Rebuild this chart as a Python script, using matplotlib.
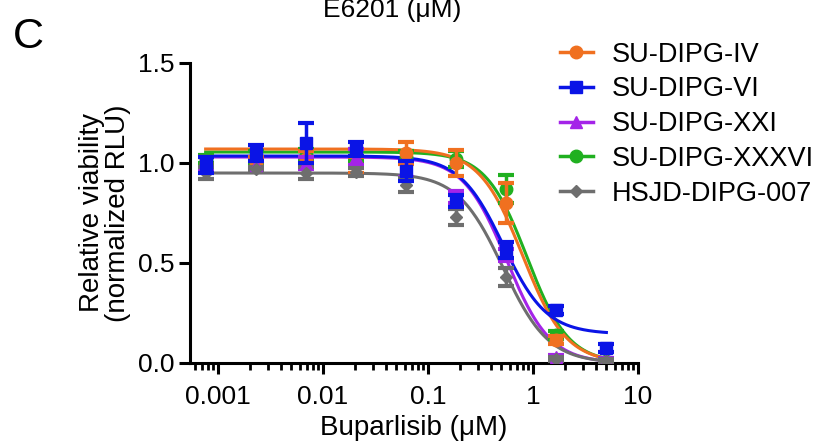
import numpy as np
import matplotlib as mpl
mpl.use('Agg')
import matplotlib.pyplot as plt
from matplotlib.ticker import LogLocator, FixedLocator, NullFormatter

plt.rcParams['font.family'] = ['Liberation Sans', 'DejaVu Sans']

## doses (uM), 3-fold dilution from 5
doses = [0.000762, 0.00229, 0.00686, 0.0206, 0.0617, 0.185, 0.556, 1.667, 5.0]

names = ['SU-DIPG-IV', 'SU-DIPG-VI', 'SU-DIPG-XXI', 'SU-DIPG-XXXVI', 'HSJD-DIPG-007']
colors = ['#F07020', '#0A14E6', '#A424E8', '#20B020', '#6E6E6E']
markers = ['o', 's', '^', 'o', 'D']

iv_mean = [1.00, 1.00, 1.02, 0.99, 1.05, 1.00, 0.80, 0.115, 0.005]
iv_err = [0.03, 0.03, 0.04, 0.04, 0.055, 0.065, 0.10, 0.02, 0.01]
vi_mean = [0.99, 1.05, 1.10, 1.07, 0.96, 0.81, 0.565, 0.265, 0.075]
vi_err = [0.04, 0.04, 0.10, 0.035, 0.05, 0.03, 0.04, 0.02, 0.02]
xxi_mean = [1.00, 0.99, 1.00, 1.03, 0.97, 0.83, 0.54, 0.03, 0.015]
xxi_err = [0.03, 0.02, 0.03, 0.04, 0.04, 0.03, 0.03, 0.01, 0.01]
xxxvi_mean = [1.02, 1.03, 1.04, 1.04, 1.03, 1.02, 0.87, 0.14, 0.01]
xxxvi_err = [0.02, 0.03, 0.03, 0.03, 0.03, 0.04, 0.07, 0.02, 0.01]
hsjd_mean = [0.95, 0.97, 0.95, 0.955, 0.89, 0.73, 0.43, 0.02, 0.01]
hsjd_err = [0.03, 0.01, 0.03, 0.02, 0.035, 0.04, 0.045, 0.01, 0.01]

means = [iv_mean, vi_mean, xxi_mean, xxxvi_mean, hsjd_mean]
errs = [iv_err, vi_err, xxi_err, xxxvi_err, hsjd_err]

## fitted 4PL curve parameters
fit_top = [1.07, 1.035, 1.03, 1.055, 0.95]
fit_bottom = [0.0, 0.145, 0.0, 0.0, 0.0]
fit_ic50 = [0.8, 0.52, 0.56, 0.88, 0.52]
fit_hill = [2.1, 2.1, 2.1, 2.2, 2.0]

fig = plt.figure(figsize=(8.26, 4.47), dpi=100)
ax = fig.add_axes([190/826, 1-363/447, 448/826, 300/447])

xs = np.logspace(np.log10(doses[0]), np.log10(doses[-1]), 300)
order = [3, 0, 2, 4, 1]   # green at the back, blue on top
for k, i in enumerate(order):
    c = colors[i]
    yfit = fit_bottom[i] + (fit_top[i]-fit_bottom[i]) / (1.0 + (xs/fit_ic50[i])**fit_hill[i])
    ax.plot(xs, yfit, '-', color=c, lw=2.2, zorder=2+k*0.1)
    ax.errorbar(doses, means[i], yerr=errs[i], fmt=markers[i], color=c,
                ms=9 if markers[i] != 'D' else 6, elinewidth=2.5, capsize=6, capthick=3,
                zorder=3+k*0.1)

# legend handles
hs = []
for i in range(5):
    h, = ax.plot([], [], '-', marker=markers[i], color=colors[i], lw=2.5,
                 ms=9 if markers[i] != 'D' else 6, label=names[i])
    hs.append(h)
fig.legend(handles=hs, loc='upper left', bbox_to_anchor=(549/826, 1-31/447),
           frameon=False, fontsize=19.5, handlelength=1.22, handletextpad=0.7,
           labelspacing=0.32, borderaxespad=0)

ax.set_xscale('log')
ax.set_xlim(10**-3.267, 10)
ax.set_ylim(0, 1.5)
ax.set_yticks([0.0, 0.5, 1.0, 1.5])
ax.set_yticklabels(['0.0', '0.5', '1.0', '1.5'])
ax.xaxis.set_major_locator(FixedLocator([0.001, 0.01, 0.1, 1, 10]))
ax.set_xticklabels(['0.001', '0.01', '0.1', '1', '10'])
ax.xaxis.set_minor_locator(LogLocator(base=10, subs=np.arange(2, 10), numticks=20))
ax.xaxis.set_minor_formatter(NullFormatter())

for s in ['top', 'right']:
    ax.spines[s].set_visible(False)
for s in ['left', 'bottom']:
    ax.spines[s].set_linewidth(2.2)
ax.tick_params(axis='both', which='major', length=8, width=2.2, labelsize=19, direction='out')
ax.tick_params(axis='x', which='major', pad=8)
ax.tick_params(axis='x', which='minor', length=5, width=2.0)

ax.set_ylabel('Relative viability\n(normalized RLU)', fontsize=20, labelpad=5, linespacing=1.0)
ax.set_xlabel('Buparlisib (μM)', fontsize=20, labelpad=4)

fig.text(13/826, 1-48/447, 'C', fontsize=31, va='baseline', ha='left')
# panel header above, cut by the top edge as in the source figure
fig.text(392/826, 1-17/447, 'E6201 (μM)', fontsize=19, va='baseline', ha='center')

fig.savefig('out.png', dpi=100)
